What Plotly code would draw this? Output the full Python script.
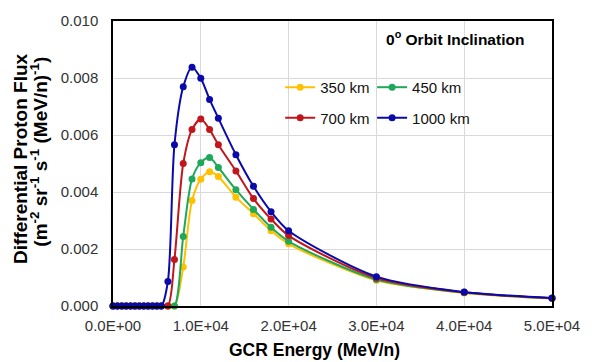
import plotly.graph_objects as go

energy = [0, 500, 1000, 1500, 2000, 2500, 3000, 3500, 4000, 4500, 5000, 5500,
          6250, 7000, 8000, 9000, 10000, 11000, 12000, 14000, 16000, 18000, 20000,
          30000, 40000, 50000]

flux_350 = [0, 0, 0, 0, 0, 0, 0, 0, 0, 0, 0, 0,
            0, 0, 0.00137, 0.00370, 0.00445, 0.00471, 0.00454, 0.00382, 0.00324, 0.00264, 0.00218,
            0.00090, 0.00046, 0.00026]
flux_450 = [0, 0, 0, 0, 0, 0, 0, 0, 0, 0, 0, 0,
            0, 0, 0.00244, 0.00446, 0.00503, 0.00521, 0.00486, 0.00408, 0.00339, 0.00276, 0.00227,
            0.00093, 0.00047, 0.00027]
flux_700 = [0, 0, 0, 0, 0, 0, 0, 0, 0, 0, 0, 0,
            0, 0.00163, 0.00500, 0.00619, 0.00656, 0.00619, 0.00566, 0.00474, 0.00377, 0.00305, 0.00247,
            0.00098, 0.00048, 0.00027]
flux_1000 = [0, 0, 0, 0, 0, 0, 0, 0, 0, 0, 0, 0,
             0.00086, 0.00566, 0.00769, 0.00838, 0.00799, 0.00725, 0.00659, 0.00531, 0.00420, 0.00331, 0.00264,
             0.00103, 0.00049, 0.00028]

series_names = ["350 km", "450 km", "700 km", "1000 km"]
series_colors = ["#FFC000", "#1FA85A", "#C0161C", "#0A0AAA"]
series_values = [flux_350, flux_450, flux_700, flux_1000]

x_tickvals = [0, 10000, 20000, 30000, 40000, 50000]
x_ticktext = ["0.0E+00", "1.0E+04", "2.0E+04", "3.0E+04", "4.0E+04", "5.0E+04"]

FONT = "Liberation Sans, Arial, sans-serif"

fig = go.Figure()
legend_ids = ["legend", "legend2", "legend3", "legend4"]
for name, color, vals, lid in zip(series_names, series_colors, series_values, legend_ids):
    fig.add_trace(go.Scatter(
        x=energy, y=vals, name=name, mode="lines+markers",
        line=dict(color=color, width=2, shape="spline", smoothing=0.8),
        marker=dict(color=color, size=7),
        cliponaxis=False, legend=lid,
    ))

L, R, T, B = 113, 562, 17, 306.5
W, H = 592, 362


def px(xp):
    return (xp - L) / (R - L)


def py(yp):
    return (B - yp) / (B - T)


leg_common = dict(bgcolor="rgba(0,0,0,0)", borderwidth=0, itemwidth=30,
                  font=dict(family=FONT, size=15, color="#111"),
                  xanchor="left", yanchor="middle")
fig.update_layout(
    legend=dict(x=px(284), y=py(84.5), **leg_common),
    legend2=dict(x=px(378), y=py(84.5), **leg_common),
    legend3=dict(x=px(284), y=py(115.5), **leg_common),
    legend4=dict(x=px(378), y=py(115.5), **leg_common),
)

fig.update_layout(
    width=W, height=H,
    margin=dict(l=L, r=W - R, t=T, b=H - B, pad=0),
    paper_bgcolor="white", plot_bgcolor="white",
    showlegend=True,
    font=dict(family=FONT, color="#222"),
)

fig.update_xaxes(
    range=[0, 50000], tickvals=x_tickvals, ticktext=x_ticktext,
    showgrid=True, gridcolor="#D9D9D9", gridwidth=1,
    showline=True, linecolor="black", linewidth=1.5, mirror=True,
    ticks="", ticklabelstandoff=5, zeroline=False,
    tickfont=dict(family=FONT, size=15, color="#333"),
)
fig.update_yaxes(
    range=[0, 0.010], dtick=0.002, tickformat=".3f",
    showgrid=True, gridcolor="#D9D9D9", gridwidth=1,
    showline=True, linecolor="black", linewidth=1.5, mirror=True,
    ticks="", ticklabelstandoff=10, zeroline=False,
    tickfont=dict(family=FONT, size=15, color="#333"),
)

fig.add_annotation(
    text="<b>GCR Energy (MeV/n)</b>", xref="paper", yref="paper",
    x=px(319), y=py(351), xanchor="center", yanchor="middle",
    showarrow=False, font=dict(family=FONT, size=17.5, color="black"),
)
fig.add_annotation(
    text="<b>Differential Proton Flux</b>", xref="paper", yref="paper",
    x=px(19), y=py(157), xanchor="center", yanchor="middle", textangle=-90,
    showarrow=False, font=dict(family=FONT, size=19, color="black"),
)
fig.add_annotation(
    text="<b>(m<sup>-2</sup> sr<sup>-1</sup> s<sup>-1</sup> (MeV/n)<sup>-1</sup>)</b>",
    xref="paper", yref="paper",
    x=px(37), y=py(150), xanchor="center", yanchor="middle", textangle=-90,
    showarrow=False, font=dict(family=FONT, size=19, color="black"),
)
fig.add_annotation(
    text="<b>0<sup>o</sup> Orbit Inclination</b>", xref="paper", yref="paper",
    x=px(463), y=py(34), xanchor="center", yanchor="middle",
    showarrow=False, font=dict(family=FONT, size=15.5, color="black"),
)

fig.write_html("out.html")
